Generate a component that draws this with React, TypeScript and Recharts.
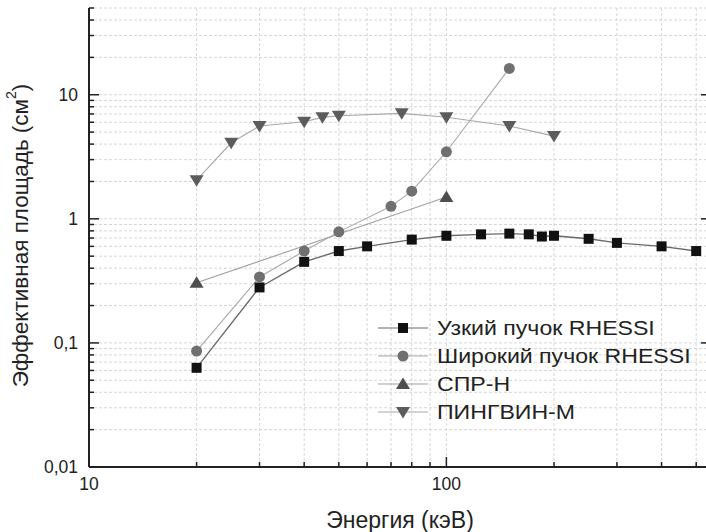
import { CartesianGrid, Label, Legend, Line, LineChart, XAxis, YAxis } from 'recharts'

// energy (keV) and effective area (cm^2)
const narrowEnergy = [20, 30, 40, 50, 60, 80, 100, 125, 150, 170, 185, 200, 250, 300, 400, 500]
const narrowArea = [0.063, 0.28, 0.45, 0.55, 0.6, 0.68, 0.73, 0.75, 0.76, 0.75, 0.72, 0.73, 0.69, 0.64, 0.6, 0.55]

const wideEnergy = [20, 30, 40, 50, 70, 80, 100, 150]
const wideArea = [0.086, 0.34, 0.55, 0.785, 1.26, 1.67, 3.47, 16.3]

const sprEnergy = [20, 100]
const sprArea = [0.305, 1.5]

const pingEnergy = [20, 25, 30, 40, 45, 50, 75, 100, 150, 200]
const pingArea = [2.05, 4.1, 5.6, 6.05, 6.57, 6.78, 7.08, 6.58, 5.6, 4.64]

const xTicks = [10, 20, 30, 40, 50, 60, 70, 80, 90, 100, 200, 300, 400, 500]
const yTicks = [
  0.01, 0.02, 0.03, 0.04, 0.05, 0.06, 0.07, 0.08, 0.09,
  0.1, 0.2, 0.3, 0.4, 0.5, 0.6, 0.7, 0.8, 0.9,
  1, 2, 3, 4, 5, 6, 7, 8, 9,
  10, 20, 30, 40, 50,
]

const seriesNames = ['Узкий пучок RHESSI', 'Широкий пучок RHESSI', 'СПР-Н', 'ПИНГВИН-М']

const toRows = (energy: number[], area: number[]) => energy.map((e, i) => ({ e, a: area[i] }))

const FONT = '"Liberation Sans", Arial, sans-serif'
const AXIS = '#222'

const isMajor = (v: number) => Math.abs(Math.log10(v) - Math.round(Math.log10(v))) < 1e-6
const fmt = (v: number) => String(v).replace('.', ',')

type Side = 'bottom' | 'left' | 'top' | 'right'

function makeTick(side: Side) {
  return (props: any) => {
    const { x, y, payload } = props
    const v = payload.value as number
    const major = isMajor(v)
    const len = major ? 10 : 5
    let line
    if (side === 'bottom') line = <line x1={x} y1={y} x2={x} y2={y - len} />
    else if (side === 'top') line = <line x1={x} y1={y} x2={x} y2={y + len} />
    else if (side === 'left') line = <line x1={x} y1={y} x2={x + len} y2={y} />
    else line = <line x1={x} y1={y} x2={x - len} y2={y} />
    return (
      <g stroke={AXIS} strokeWidth={1.5}>
        {line}
        {major && side === 'bottom' && (
          <text x={x} y={y + 23} textAnchor='middle' fontSize={17.5} fill={AXIS} stroke='none' fontFamily={FONT}>
            {v}
          </text>
        )}
        {major && side === 'left' && (
          <text x={x - 11} y={y} dy='0.36em' textAnchor='end' fontSize={17.5} fill={AXIS} stroke='none' fontFamily={FONT}>
            {fmt(v)}
          </text>
        )}
      </g>
    )
  }
}

function Marker({ kind, cx, cy, color }: { kind: number; cx: number; cy: number; color: string }) {
  if (kind === 0) return <rect x={cx - 5} y={cy - 5} width={10} height={10} fill={color} />
  if (kind === 1) return <circle cx={cx} cy={cy} r={5.5} fill={color} />
  if (kind === 2) return <polygon points={`${cx},${cy - 6.5} ${cx + 7},${cy + 5} ${cx - 7},${cy + 5}`} fill={color} />
  return <polygon points={`${cx},${cy + 6.5} ${cx + 7},${cy - 5} ${cx - 7},${cy - 5}`} fill={color} />
}

const markerColors = ['#111', '#707070', '#4e4e4e', '#5c5c5c']
const lineColors = ['#6a6a6a', '#a8a8a8', '#a0a0a0', '#a8a8a8']

const dotFor = (kind: number) => (p: any) => (
  <Marker key={`d-${kind}-${p.index}`} kind={kind} cx={p.cx} cy={p.cy} color={markerColors[kind]} />
)

function LegendBox() {
  return (
    <div style={{ fontFamily: FONT, fontSize: 21, color: '#222' }}>
      {seriesNames.map((name, i) => (
        <div key={name} style={{ display: 'flex', alignItems: 'center', height: 28 }}>
          <svg width={58} height={28} style={{ flex: 'none' }}>
            <line x1={4} x2={54} y1={14} y2={14} stroke={lineColors[i]} strokeWidth={1.2} />
            <Marker kind={i} cx={29} cy={14} color={markerColors[i]} />
          </svg>
          <span
            style={{
              display: 'inline-block',
              marginLeft: 5,
              whiteSpace: 'nowrap',
              transform: 'scaleX(1.1)',
              transformOrigin: 'left center',
            }}
          >
            {name}
          </span>
        </div>
      ))}
    </div>
  )
}

export default function App() {
  const series = [
    toRows(narrowEnergy, narrowArea),
    toRows(wideEnergy, wideArea),
    toRows(sprEnergy, sprArea),
    toRows(pingEnergy, pingArea),
  ]
  return (
    <div style={{ position: 'fixed', left: 0, top: 0, width: 706, height: 532, overflow: 'hidden', background: '#fff' }}>
      <LineChart width={720} height={532} margin={{ top: 8, right: 0, bottom: 0, left: 0 }}>
        <CartesianGrid stroke='#d6d6d6' strokeDasharray='3 2' />
        <XAxis
          dataKey='e'
          type='number'
          scale='log'
          domain={[10, 550]}
          allowDataOverflow
          ticks={xTicks}
          interval={0}
          height={65}
          tickSize={0}
          tickMargin={0}
          tickLine={false}
          axisLine={{ stroke: AXIS, strokeWidth: 2 }}
          tick={makeTick('bottom')}
        >
          <Label
            content={(p: any) => (
              <text
                x={p.viewBox.x + p.viewBox.width / 2}
                y={p.viewBox.y + 61}
                textAnchor='middle'
                fontSize={23}
                fill={AXIS}
                fontFamily={FONT}
              >
                Энергия (кэВ)
              </text>
            )}
          />
        </XAxis>
        <XAxis
          xAxisId='top'
          orientation='top'
          type='number'
          scale='log'
          domain={[10, 550]}
          allowDataOverflow
          ticks={xTicks}
          interval={0}
          height={0}
          tickSize={0}
          tickMargin={0}
          tickLine={false}
          axisLine={{ stroke: AXIS, strokeWidth: 2 }}
          tick={makeTick('top')}
        />
        <YAxis
          type='number'
          scale='log'
          domain={[0.01, 50]}
          allowDataOverflow
          ticks={yTicks}
          interval={0}
          width={89}
          tickSize={0}
          tickMargin={0}
          tickLine={false}
          axisLine={{ stroke: AXIS, strokeWidth: 2 }}
          tick={makeTick('left')}
        >
          <Label
            content={(p: any) => {
              const cx = p.viewBox.x + 20
              const cy = p.viewBox.y + p.viewBox.height / 2 - 2
              return (
                <text
                  x={cx}
                  y={cy}
                  transform={`rotate(-90, ${cx}, ${cy})`}
                  textAnchor='middle'
                  dominantBaseline='central'
                  fontSize={22.5}
                  fill={AXIS}
                  fontFamily={FONT}
                >
                  Эффективная площадь (см
                  <tspan dy={-9} fontSize={14}>2</tspan>
                  <tspan dy={9}>)</tspan>
                </text>
              )
            }}
          />
        </YAxis>
        <YAxis
          yAxisId='right'
          orientation='right'
          type='number'
          scale='log'
          domain={[0.01, 50]}
          allowDataOverflow
          ticks={yTicks}
          interval={0}
          width={9}
          tickSize={0}
          tickMargin={0}
          tickLine={false}
          axisLine={{ stroke: AXIS, strokeWidth: 2 }}
          tick={makeTick('right')}
        />
        {series.map((rows, i) => (
          <Line
            key={seriesNames[i]}
            data={rows}
            dataKey='a'
            name={seriesNames[i]}
            type='linear'
            stroke={lineColors[i]}
            strokeWidth={i === 0 ? 1.4 : 1.1}
            dot={dotFor(i)}
            activeDot={false}
            isAnimationActive={false}
          />
        ))}
        <Legend
          layout='vertical'
          align='center'
          verticalAlign='middle'
          content={() => <LegendBox />}
          wrapperStyle={{ left: 374, top: 314, width: 330 }}
        />
      </LineChart>
    </div>
  )
}
